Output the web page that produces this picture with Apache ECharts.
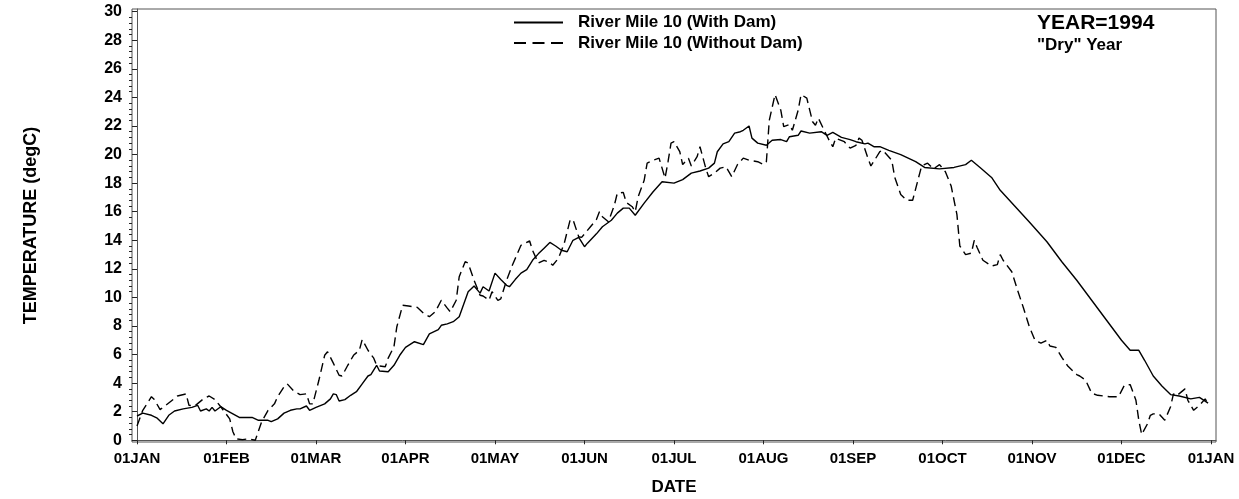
<!DOCTYPE html>
<html>
<head>
<meta charset="utf-8">
<script src="https://cdn.jsdelivr.net/npm/echarts@6/dist/echarts.min.js"></script>
<style>
  html, body { margin: 0; padding: 0; background: #ffffff; }
  #chart { width: 1239px; height: 499px; }
</style>
</head>
<body>
<div id="chart"></div>
<script>
// Month tick labels along the date axis (1994 through 01JAN 1995)
const monthLabels = ['01JAN', '01FEB', '01MAR', '01APR', '01MAY', '01JUN', '01JUL',
                     '01AUG', '01SEP', '01OCT', '01NOV', '01DEC', '01JAN'];
const monthLengths = [31, 28, 31, 30, 31, 30, 31, 31, 30, 31, 30, 31];
const tempTicks = [0, 2, 4, 6, 8, 10, 12, 14, 16, 18, 20, 22, 24, 26, 28, 30];

// River Mile 10, with dam: day of year 1994 and water temperature (degC)
const withDamDays = [1, 3, 6, 8, 10, 12, 14, 17, 20, 22, 23, 25, 26, 27, 28, 30, 32, 34, 36, 40,
  42, 45, 46, 48, 50, 52, 54, 55, 57, 58, 60, 63, 65, 66, 67, 68, 70, 72, 74, 76,
  78, 79, 81, 82, 85, 87, 89, 91, 94, 97, 99, 102, 103, 105, 107, 109, 112, 114, 116, 117,
  119, 121, 123, 125, 126, 128, 130, 132, 134, 136, 138, 140, 142, 144, 146, 148, 150, 152, 153, 156,
  158, 161, 163, 165, 167, 169, 172, 175, 178, 182, 185, 188, 191, 194, 196, 197, 199, 201, 203, 205,
  206, 208, 209, 211, 214, 216, 219, 221, 222, 225, 226, 229, 233, 235, 237, 240, 243, 245, 248, 249,
  251, 253, 256, 260, 265, 268, 273, 278, 282, 284, 287, 291, 294, 299, 304, 310, 315, 320, 325, 330,
  335, 338, 341, 343, 346, 349, 352, 355, 359, 362, 365];
const withDamTemp = [1.7, 1.9, 1.75, 1.55, 1.15, 1.75, 2.05, 2.2, 2.3, 2.45, 2.05, 2.2, 2.05, 2.3, 2.05, 2.35, 2.1, 1.85, 1.6, 1.6,
  1.4, 1.4, 1.3, 1.5, 1.9, 2.1, 2.2, 2.2, 2.4, 2.1, 2.3, 2.55, 2.9, 3.25, 3.2, 2.75, 2.85, 3.15, 3.4, 3.95,
  4.5, 4.6, 5.25, 4.85, 4.8, 5.25, 5.95, 6.5, 6.9, 6.7, 7.45, 7.75, 8.05, 8.15, 8.3, 8.65, 10.4, 10.8, 10.3, 10.75,
  10.45, 11.7, 11.25, 10.85, 10.75, 11.25, 11.7, 11.95, 12.6, 13.05, 13.45, 13.85, 13.6, 13.3, 13.2, 14.0, 14.2, 13.55, 13.8, 14.45,
  14.95, 15.4, 15.9, 16.25, 16.25, 15.75, 16.6, 17.4, 18.1, 18.0, 18.25, 18.7, 18.85, 19.05, 19.4, 20.2, 20.75, 20.9, 21.5, 21.6,
  21.7, 22.0, 21.15, 20.8, 20.65, 21.0, 21.05, 20.9, 21.25, 21.35, 21.65, 21.5, 21.6, 21.35, 21.55, 21.2, 21.05, 20.9, 20.75, 20.8,
  20.55, 20.55, 20.3, 20.0, 19.5, 19.1, 19.0, 19.1, 19.3, 19.6, 19.1, 18.4, 17.5, 16.4, 15.3, 13.9, 12.5, 11.2, 9.8, 8.4,
  7.0, 6.3, 6.3, 5.6, 4.5, 3.8, 3.2, 3.1, 2.9, 3.0, 2.6];

// River Mile 10, without dam: day of year 1994 and water temperature (degC)
const withoutDamDays = [1, 3, 6, 7, 9, 11, 15, 18, 19, 21, 24, 26, 28, 30, 33, 34, 35, 37, 39, 41,
  43, 45, 47, 48, 50, 51, 53, 55, 57, 58, 59, 61, 63, 64, 66, 68, 69, 71, 73, 75,
  76, 78, 80, 81, 82, 84, 85, 87, 88, 90, 92, 95, 97, 99, 101, 103, 105, 106, 108, 109,
  111, 112, 114, 116, 117, 119, 120, 122, 123, 125, 127, 130, 133, 134, 136, 138, 140, 141, 143, 145,
  147, 148, 150, 151, 154, 156, 157, 158, 160, 162, 163, 165, 166, 168, 169, 170, 172, 173, 175, 177,
  179, 180, 181, 182, 184, 185, 187, 188, 190, 191, 193, 194, 196, 198, 200, 202, 204, 206, 208, 211,
  213, 214, 215, 217, 219, 220, 222, 223, 225, 226, 228, 230, 231, 232, 234, 236, 237, 238, 241, 243,
  245, 246, 247, 249, 250, 253, 254, 257, 258, 260, 262, 264, 265, 267, 269, 271, 273, 275, 277, 279,
  280, 282, 284, 285, 286, 288, 291, 293, 294, 295, 298, 300, 302, 304, 306, 308, 310, 311, 313, 315,
  317, 320, 321, 323, 325, 327, 329, 331, 334, 336, 338, 340, 341, 342, 344, 345, 346, 348, 350, 352,
  353, 354, 357, 358, 360, 362, 364, 365];
const withoutDamTemp = [1.0, 2.1, 3.05, 2.85, 2.15, 2.45, 3.1, 3.25, 2.45, 2.4, 2.9, 3.1, 2.85, 2.35, 1.5, 0.6, 0.1, 0.05, 0.1, 0.0,
  1.3, 2.1, 2.55, 3.05, 3.75, 3.95, 3.45, 3.2, 3.25, 2.55, 2.55, 4.2, 5.95, 6.2, 5.4, 4.55, 4.5, 5.25, 5.95, 6.3,
  7.05, 6.3, 5.75, 5.25, 5.2, 5.15, 5.75, 6.55, 7.95, 9.45, 9.4, 9.3, 8.9, 8.65, 9.0, 9.8, 9.25, 9.0, 9.8, 11.45,
  12.5, 12.4, 11.2, 10.15, 10.1, 9.8, 10.4, 9.8, 9.9, 11.2, 12.25, 13.65, 13.95, 13.3, 12.4, 12.6, 12.45, 12.25, 12.75, 13.8,
  15.4, 15.45, 14.25, 14.2, 14.95, 15.45, 16.0, 15.65, 15.3, 16.45, 17.3, 17.35, 16.65, 16.35, 16.0, 17.05, 18.2, 19.4, 19.6, 19.75,
  18.35, 19.5, 20.8, 20.9, 20.2, 19.3, 19.75, 19.2, 19.85, 20.55, 19.05, 18.45, 18.7, 19.05, 19.15, 18.45, 19.3, 19.75, 19.6, 19.5,
  19.3, 19.5, 22.4, 24.2, 23.1, 21.95, 22.1, 21.7, 23.1, 24.2, 23.95, 22.3, 22.05, 22.55, 21.7, 20.9, 20.55, 21.15, 20.9, 20.45,
  20.65, 21.15, 21.0, 19.75, 19.2, 20.2, 20.3, 19.6, 18.4, 17.2, 16.8, 16.8, 17.6, 19.2, 19.4, 19.0, 19.3, 18.8, 17.8, 15.8,
  13.6, 13.0, 13.1, 14.0, 13.5, 12.6, 12.2, 12.3, 13.0, 12.6, 11.8, 10.5, 9.3, 8.0, 7.0, 6.8, 7.0, 6.6, 6.5, 5.8,
  5.2, 4.6, 4.5, 4.2, 3.3, 3.15, 3.1, 3.05, 3.05, 3.85, 3.9, 2.8, 1.4, 0.4, 1.15, 1.75, 1.85, 1.85, 1.4, 2.35,
  3.25, 3.1, 3.6, 2.8, 2.1, 2.45, 2.9, 2.5];

// The date axis gives every month the same width, so a day maps to
// (month index + fraction of that month).
const monthStart = [];
let running = 0;
monthLengths.forEach(len => { monthStart.push(running); running += len; });
function dayToPos(day) {
  const d = day - 1;
  let k = 0;
  while (k < 11 && d >= monthStart[k + 1]) k++;
  return k + (d - monthStart[k]) / monthLengths[k];
}

const monthTicks = monthLabels.map((_, i) => i);
const minorTempTicks = [];
for (let i = 1; i < 75; i++) {
  if (i % 5 !== 0) minorTempTicks.push(+(i * 0.4).toFixed(1));
}

const FONT = '"Liberation Sans", Arial, Helvetica, sans-serif';
const AXIS_GRAY = '#555555';

const chart = echarts.init(document.getElementById('chart'), null, { renderer: 'canvas' });

chart.setOption({
  animation: false,
  backgroundColor: '#ffffff',
  textStyle: { fontFamily: FONT },
  grid: {
    left: 132, right: 23, top: 9, bottom: 57,
    show: true, borderColor: AXIS_GRAY, borderWidth: 1,
    outerBoundsMode: 'none'
  },
  legend: {
    orient: 'vertical',
    left: 513, top: 14,
    padding: 0,
    itemWidth: 49, itemHeight: 14, itemGap: 3.6,
    itemStyle: { opacity: 0 },
    textStyle: { fontFamily: FONT, fontSize: 17, fontWeight: 'bold', color: '#000', padding: [0, 0, 0, 10] },
    data: [
      { name: 'River Mile 10 (With Dam)' },
      { name: 'River Mile 10 (Without Dam)', lineStyle: { type: [12, 6.5] } }
    ]
  },
  xAxis: {
    type: 'value',
    min: -0.056, max: 12.056,
    name: 'DATE',
    nameLocation: 'middle',
    nameGap: 37,
    nameTextStyle: { fontFamily: FONT, fontSize: 17, fontWeight: 'bold', color: '#000' },
    splitLine: { show: false },
    axisLine: { show: true, lineStyle: { color: AXIS_GRAY, width: 1 } },
    axisTick: { show: true, customValues: monthTicks, length: 4, lineStyle: { color: '#222' } },
    axisLabel: {
      customValues: monthTicks,
      margin: 9,
      fontFamily: FONT, fontSize: 15, fontWeight: 'bold', color: '#000',
      formatter: v => monthLabels[Math.round(v)]
    }
  },
  yAxis: [
    {
      type: 'value',
      min: -0.12, max: 30.19,
      name: 'TEMPERATURE (degC)',
      nameLocation: 'middle',
      nameGap: 92,
      nameRotate: 90,
      nameTextStyle: { fontFamily: FONT, fontSize: 18, fontWeight: 'bold', color: '#000' },
      splitLine: { show: false },
      axisLine: { show: true, lineStyle: { color: AXIS_GRAY, width: 1 } },
      axisTick: { show: true, customValues: tempTicks, length: 5, lineStyle: { color: '#222' } },
      axisLabel: {
        customValues: tempTicks,
        margin: 10,
        fontFamily: FONT, fontSize: 16, fontWeight: 'bold', color: '#000'
      }
    },
    {
      type: 'value',
      min: -0.12, max: 30.19,
      position: 'left',
      splitLine: { show: false },
      axisLine: { show: false },
      axisLabel: { show: false },
      axisTick: { show: true, customValues: minorTempTicks, length: 3, lineStyle: { color: '#222' } }
    }
  ],
  graphic: [
    {
      type: 'text', left: 1037, top: 13,
      style: { text: 'YEAR=1994', font: 'bold 21px ' + FONT, fill: '#000' }
    },
    {
      type: 'text', left: 1037, top: 37,
      style: { text: '"Dry" Year', font: 'bold 17px ' + FONT, fill: '#000' }
    }
  ],
  series: [
    {
      name: 'River Mile 10 (With Dam)',
      type: 'line',
      symbol: 'none',
      lineStyle: { color: '#000', width: 1.4, type: 'solid' },
      itemStyle: { color: '#000' },
      data: withDamDays.map((d, i) => [dayToPos(d), withDamTemp[i]])
    },
    {
      name: 'River Mile 10 (Without Dam)',
      type: 'line',
      symbol: 'none',
      lineStyle: { color: '#000', width: 1.4, type: [9, 5] },
      itemStyle: { color: '#000' },
      data: withoutDamDays.map((d, i) => [dayToPos(d), withoutDamTemp[i]])
    }
  ]
});
</script>
</body>
</html>
